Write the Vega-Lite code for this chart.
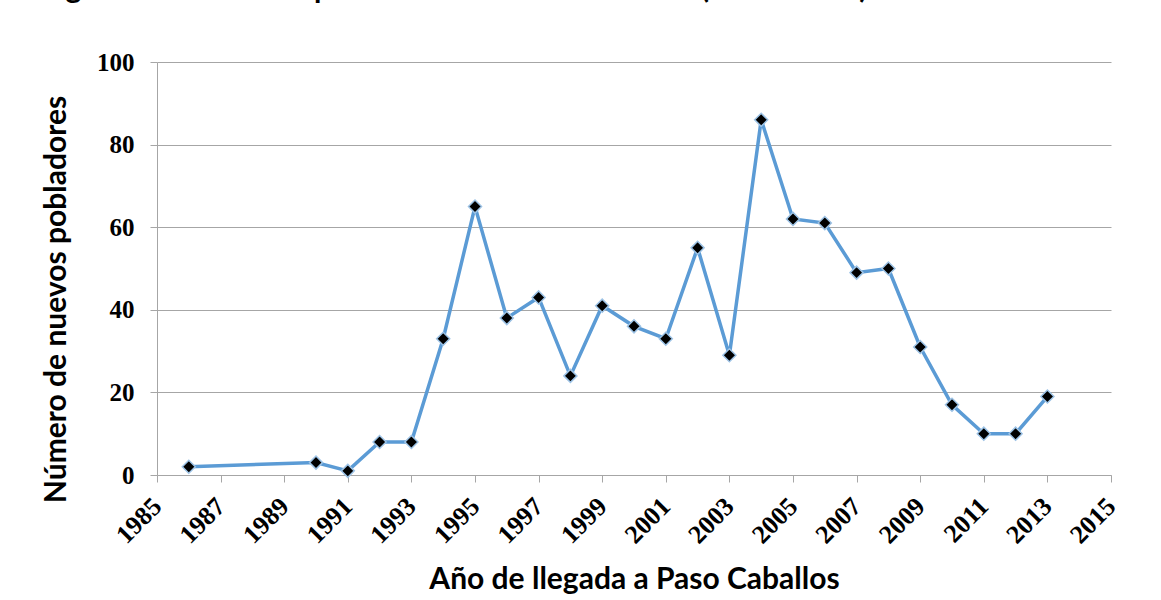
{
  "$schema": "https://vega.github.io/schema/vega-lite/v6.json",
  "autosize": "none",
  "width": 954,
  "height": 413,
  "padding": {"left": 157, "top": 62, "right": 50, "bottom": 125},
  "background": "white",
  "title": {
    "text": "Figura 2. Inmigración de nuevos pobladores en Paso Caballos (1986-2013)",
    "anchor": "start",
    "font": "Lato",
    "fontSize": 30,
    "fontWeight": "bold",
    "color": "black",
    "dx": -157,
    "offset": 46
  },
  "data": {
    "values": [
      {"year": 1986, "n": 2},
      {"year": 1990, "n": 3},
      {"year": 1991, "n": 1},
      {"year": 1992, "n": 8},
      {"year": 1993, "n": 8},
      {"year": 1994, "n": 33},
      {"year": 1995, "n": 65},
      {"year": 1996, "n": 38},
      {"year": 1997, "n": 43},
      {"year": 1998, "n": 24},
      {"year": 1999, "n": 41},
      {"year": 2000, "n": 36},
      {"year": 2001, "n": 33},
      {"year": 2002, "n": 55},
      {"year": 2003, "n": 29},
      {"year": 2004, "n": 86},
      {"year": 2005, "n": 62},
      {"year": 2006, "n": 61},
      {"year": 2007, "n": 49},
      {"year": 2008, "n": 50},
      {"year": 2009, "n": 31},
      {"year": 2010, "n": 17},
      {"year": 2011, "n": 10},
      {"year": 2012, "n": 10},
      {"year": 2013, "n": 19}
    ]
  },
  "encoding": {
    "x": {
      "field": "year",
      "type": "quantitative",
      "scale": {"domain": [1985, 2015], "nice": false, "zero": false},
      "axis": {
        "values": [1985, 1987, 1989, 1991, 1993, 1995, 1997, 1999, 2001, 2003, 2005, 2007, 2009, 2011, 2013, 2015],
        "format": "d",
        "title": "Año de llegada a Paso Caballos",
        "titleFont": "Lato",
        "titleFontSize": 30,
        "titleFontWeight": "bold",
        "titleColor": "black",
        "titlePadding": 17,
        "labelFont": "Liberation Serif",
        "labelFontSize": 26,
        "labelFontWeight": "bold",
        "labelColor": "black",
        "labelAngle": -45,
        "labelAlign": "right",
        "labelBaseline": "middle",
        "labelPadding": 20,
        "labelOverlap": false,
        "labelFlush": false,
        "grid": false,
        "domainColor": "#a6a6a6",
        "tickColor": "#a6a6a6",
        "tickSize": 7
      }
    },
    "y": {
      "field": "n",
      "type": "quantitative",
      "scale": {"domain": [0, 100], "nice": false},
      "axis": {
        "values": [0, 20, 40, 60, 80, 100],
        "title": "Número de nuevos pobladores",
        "titleFont": "Lato",
        "titleFontSize": 30,
        "titleFontWeight": "bold",
        "titleColor": "black",
        "titlePadding": 25,
        "titleY": 237,
        "labelFont": "Liberation Serif",
        "labelFontSize": 25,
        "labelFontWeight": "bold",
        "labelColor": "black",
        "labelPadding": 16,
        "grid": true,
        "gridColor": "#a6a6a6",
        "domainColor": "#a6a6a6",
        "tickColor": "#a6a6a6",
        "tickSize": 7
      }
    }
  },
  "layer": [
    {
      "mark": {"type": "line", "color": "#5B9BD5", "strokeWidth": 3.5}
    },
    {
      "mark": {"type": "point", "shape": "diamond", "filled": true, "fill": "black", "stroke": "#9DC3E6", "strokeWidth": 1.5, "size": 170, "opacity": 1}
    }
  ],
  "config": {"view": {"stroke": null}}
}
